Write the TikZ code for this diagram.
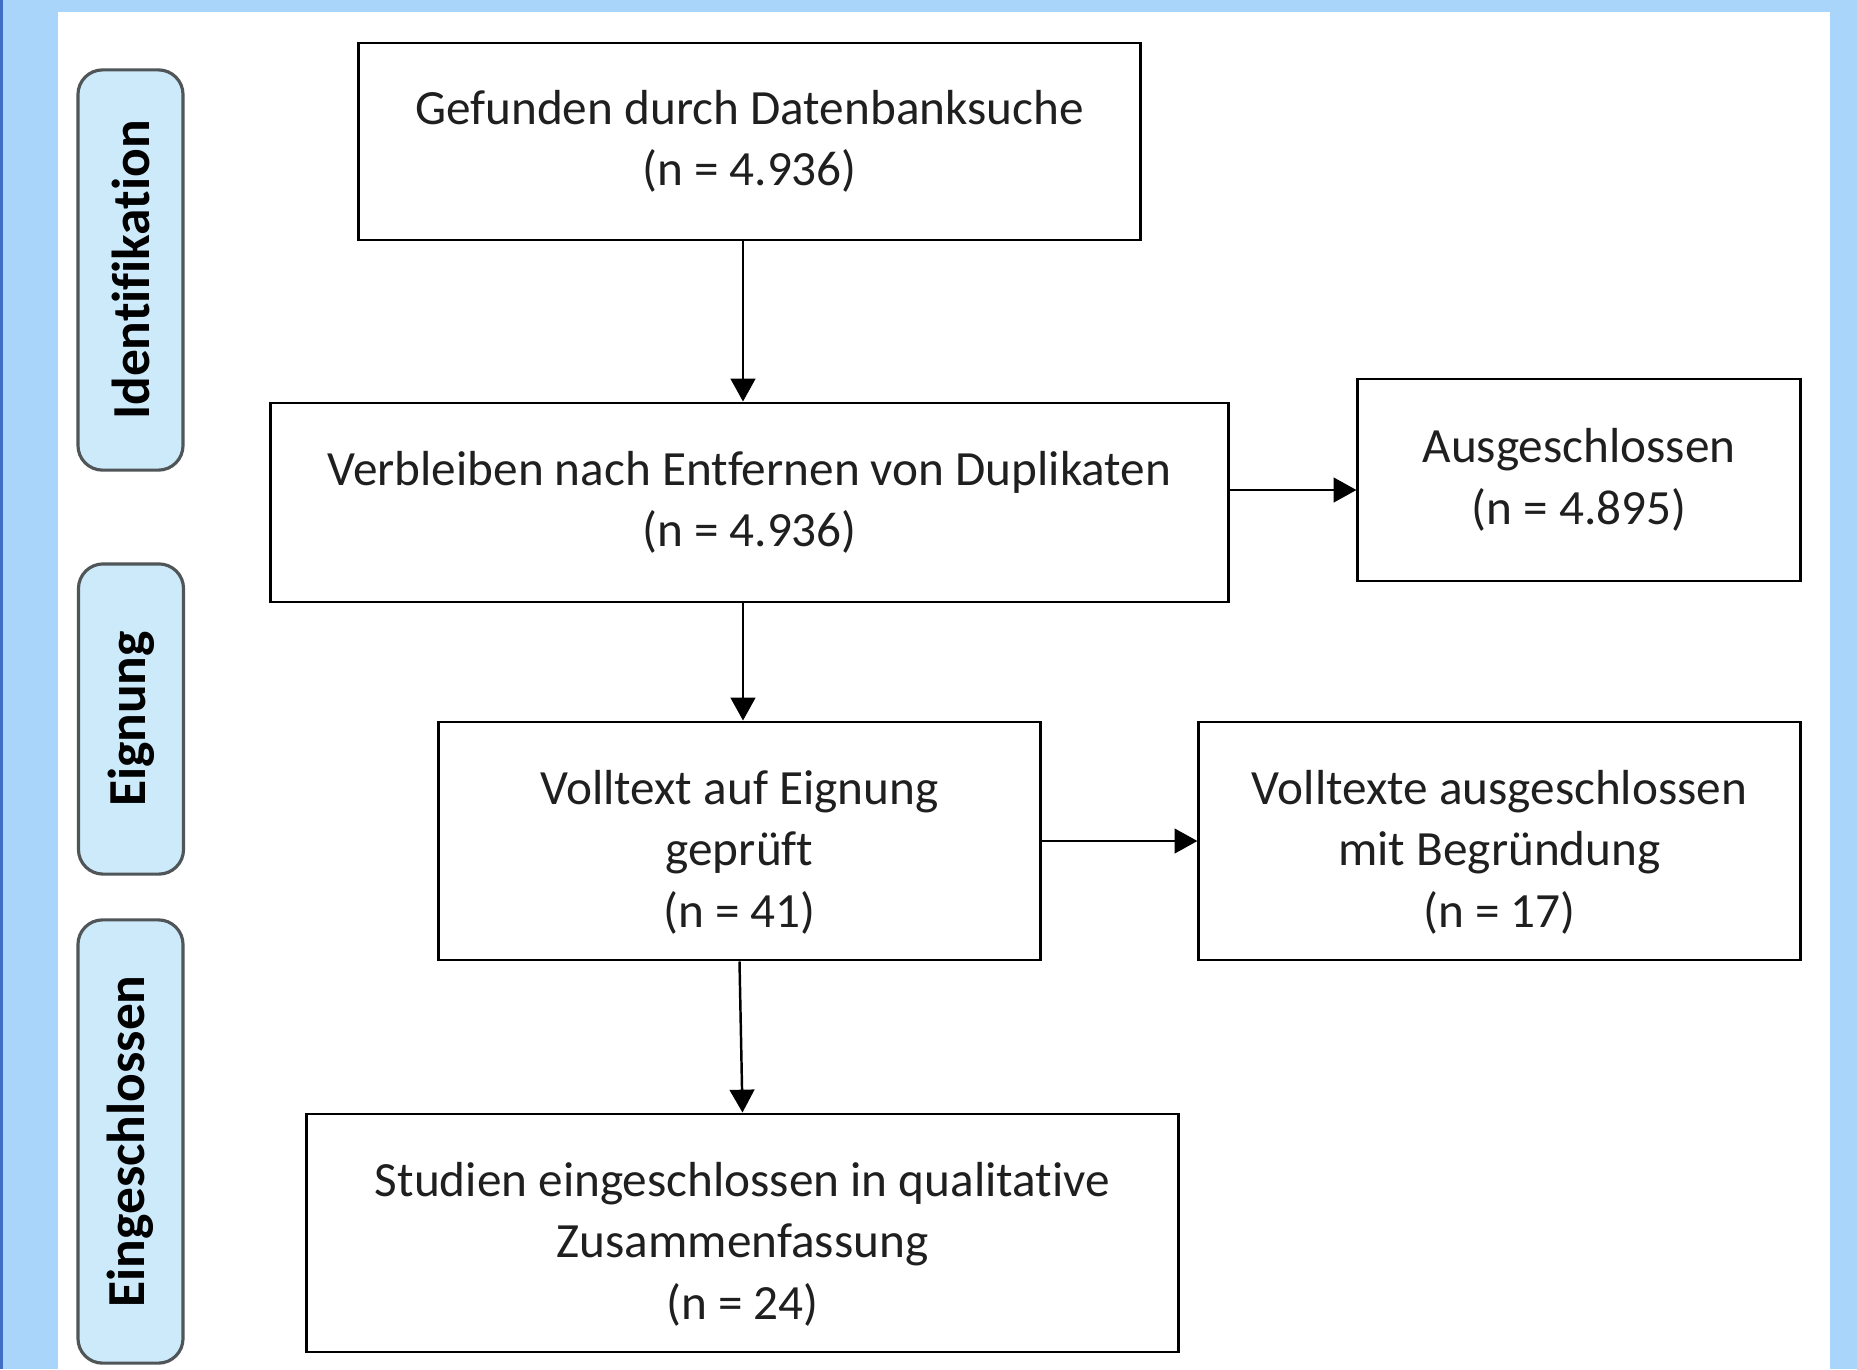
\documentclass[tikz,border=0pt]{standalone}
\usepackage{fontspec}
\setmainfont[Ligatures={NoCommon}]{Carlito}
\usetikzlibrary{arrows.meta}
\definecolor{hintergrund}{HTML}{A9D5FB}
\definecolor{randblau}{HTML}{3F6FC4}
\definecolor{phasenblau}{HTML}{CDEAFB}
\definecolor{phasenrand}{HTML}{505558}
\newcommand{\obenstrut}{\rule{0pt}{16pt}}
\tikzset{
  kasten/.style={draw=black, line width=0.8pt, fill=white, align=center, inner sep=0pt,
    font=\fontsize{14}{17.5}\selectfont, text=black!88},
  phase/.style={draw=phasenrand, line width=0.9pt, fill=phasenblau, rounded corners=7pt,
    rotate=90, minimum height=1.05cm, inner sep=0pt, font=\fontsize{15.2}{18}\selectfont\bfseries},
  pfeil/.style={->, line width=0.7pt}
}
\begin{document}
\begin{tikzpicture}[x=0.01cm, y=-0.01cm, >={Triangle[length=6.5pt, width=7pt]}]
  % 1. Hintergrund und weisse Flaeche
  \useasboundingbox (0,0) rectangle (1857,1369);
  \fill[hintergrund] (0,0) rectangle (1857,1369);
  \fill[randblau] (0,0) rectangle (3,1369);
  \fill[white] (58,12) rectangle (1830,1369);

  % 2. Phasen am linken Rand
  \node[phase, minimum width=4cm] (ident) at (130.5,270) {Identifikation};
  \node[phase, minimum width=3.1cm] (eign) at (131,719) {Eignung};
  \node[phase, minimum width=4.43cm] (einge) at (130.5,1141.5) {Eingeschlossen};

  % 3. Kaesten des Ablaufs
  \node[kasten, minimum width=7.81cm, minimum height=1.97cm] (gef) at (749.5,141.5)
    {Gefunden durch Datenbanksuche\\(n = 4.936)};
  \node[kasten, minimum width=9.57cm, minimum height=1.99cm] (verb) at (749.5,502.5)
    {Verbleiben nach Entfernen von Duplikaten\\(n = 4.936)};
  \node[kasten, minimum width=4.42cm, minimum height=2.02cm] (aus) at (1579,480)
    {Ausgeschlossen\\(n = 4.895)};
  \node[kasten, minimum width=6.01cm, minimum height=2.38cm] (voll) at (739.5,841)
    {\obenstrut Volltext auf Eignung\\geprüft\\(n = 41)};
  \node[kasten, minimum width=6.01cm, minimum height=2.38cm] (vollaus) at (1499.5,841)
    {\obenstrut Volltexte ausgeschlossen\\mit Begründung\\(n = 17)};
  \node[kasten, minimum width=8.71cm, minimum height=2.38cm] (stud) at (742.5,1233)
    {\obenstrut Studien eingeschlossen in qualitative\\Zusammenfassung\\(n = 24)};

  % 4. Pfeile
  \coordinate (achse) at (743,490);
  \draw[pfeil] (gef.south -| achse) -- (verb.north -| achse);
  \draw[pfeil] (verb.south -| achse) -- (voll.north -| achse);
  \draw[pfeil] (voll.south) -- (stud.north);
  \draw[pfeil] (verb.east |- achse) -- (aus.west |- achse);
  \draw[pfeil] (voll.east) -- (vollaus.west);
\end{tikzpicture}
\end{document}
